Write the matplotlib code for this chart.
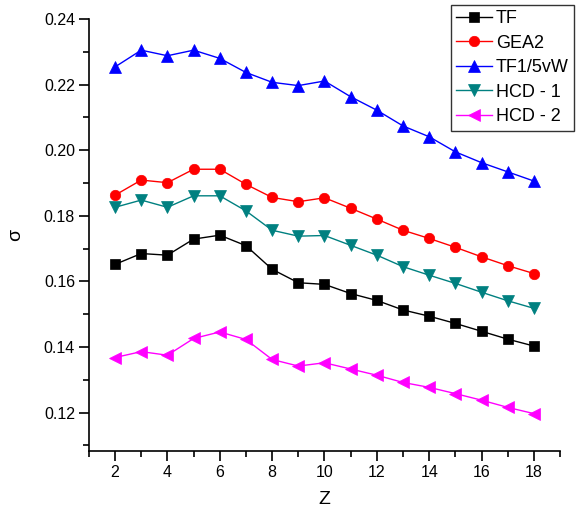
import matplotlib
matplotlib.use("Agg")
import matplotlib.pyplot as plt
from matplotlib.ticker import MultipleLocator

plt.rcParams['font.family'] = ['Liberation Sans', 'DejaVu Sans']

Z = [2, 3, 4, 5, 6, 7, 8, 9, 10, 11, 12, 13, 14, 15, 16, 17, 18]
tf = [0.1652, 0.1685, 0.1680, 0.1729, 0.1741, 0.1709, 0.1637, 0.1596, 0.1591,
      0.1563, 0.1542, 0.1513, 0.1494, 0.1472, 0.1448, 0.1424, 0.1403]
gea2 = [0.1863, 0.1909, 0.1901, 0.1942, 0.1942, 0.1896, 0.1856, 0.1843, 0.1855,
        0.1823, 0.1790, 0.1756, 0.1731, 0.1704, 0.1675, 0.1648, 0.1624]
tf15vw = [0.2254, 0.2305, 0.2288, 0.2305, 0.2280, 0.2237, 0.2207, 0.2197, 0.2211,
          0.2163, 0.2122, 0.2074, 0.2041, 0.1995, 0.1962, 0.1934, 0.1906]
hcd1 = [0.1826, 0.1848, 0.1826, 0.1861, 0.1861, 0.1815, 0.1756, 0.1738, 0.1740,
        0.1710, 0.1680, 0.1645, 0.1619, 0.1594, 0.1567, 0.1541, 0.1518]
hcd2 = [0.1368, 0.1386, 0.1375, 0.1426, 0.1446, 0.1423, 0.1362, 0.1342, 0.1352,
        0.1333, 0.1314, 0.1292, 0.1277, 0.1258, 0.1238, 0.1216, 0.1197]
labels = ["TF", "GEA2", "TF1/5vW", "HCD - 1", "HCD - 2"]

fig = plt.figure(figsize=(5.81, 5.11), dpi=100)
ax = fig.add_axes([0.153, 0.1174, 0.811, 0.8454])

series = [
    (tf, 's', '#000000', 6.5),
    (gea2, 'o', '#FF0000', 7.5),
    (tf15vw, '^', '#0000FF', 8.5),
    (hcd1, 'v', '#008080', 8.5),
    (hcd2, '<', '#FF00FF', 8.5),
]
for (vals, m, c, ms), lab in zip(series, labels):
    ax.plot(Z, vals, marker=m, color=c, ms=ms, lw=1.0, label=lab,
            markeredgewidth=0.5, markeredgecolor=c)

ax.set_xlim(1, 19)
ax.set_ylim(0.1083, 0.24)
ax.xaxis.set_major_locator(MultipleLocator(2))
ax.xaxis.set_minor_locator(MultipleLocator(1))
ax.yaxis.set_major_locator(MultipleLocator(0.02))
ax.yaxis.set_minor_locator(MultipleLocator(0.01))
ax.yaxis.set_major_formatter(plt.FormatStrFormatter('%.2f'))

for s in ['top', 'right']:
    ax.spines[s].set_visible(False)
for s in ['left', 'bottom']:
    ax.spines[s].set_linewidth(1.2)

ax.tick_params(which='major', direction='out', length=7, width=1.2,
               labelsize=11.5, pad=3)
ax.tick_params(which='minor', direction='out', length=4, width=1.2)

ax.set_xlabel('Z', fontsize=14, labelpad=8)
ax.set_ylabel('σ', fontsize=14, labelpad=14)

leg = fig.legend(loc='upper left', bbox_to_anchor=(0.776, 0.991),
                 fontsize=13, frameon=True, fancybox=False,
                 edgecolor='black', handlelength=2.0, handletextpad=0.2,
                 labelspacing=0.42, borderpad=0.3, borderaxespad=0)
leg.get_frame().set_linewidth(1.0)

fig.savefig('out.png', dpi=100)
